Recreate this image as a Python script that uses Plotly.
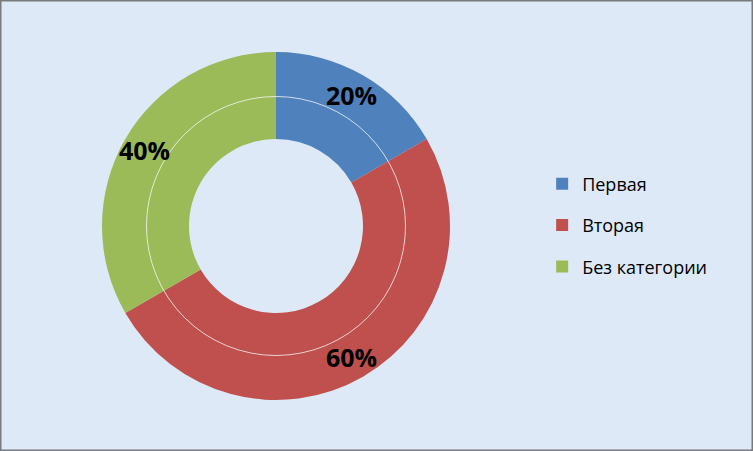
import math
import plotly.graph_objects as go

categories = ["Первая", "Вторая", "Без категории"]
values = [20, 60, 40]
colors = ["#4F81BD", "#C0504D", "#9BBB59"]

W, H = 753, 451
CX, CY = 276, 225          # pie centre in pixels (CY measured from bottom)
R_OUT, R_MID, R_HOLE = 174, 129.5, 87


def dom(r):
    return dict(x=[(CX - r) / W, (CX + r) / W], y=[(CY - r) / H, (CY + r) / H])


fig = go.Figure()

# inner ring
fig.add_trace(go.Pie(
    labels=categories, values=values, sort=False, direction="clockwise", rotation=0,
    marker=dict(colors=colors, line=dict(width=0)), hole=R_HOLE / R_MID,
    domain=dom(R_MID), textinfo="none", hoverinfo="label+value", showlegend=False,
))
# outer ring
fig.add_trace(go.Pie(
    labels=categories, values=values, sort=False, direction="clockwise", rotation=0,
    marker=dict(colors=colors, line=dict(width=0)), hole=R_MID / R_OUT,
    domain=dom(R_OUT), textinfo="none",
    hoverinfo="label+value", showlegend=False,
))

# data labels at the middle of each outer-ring slice (angles derived from values)
total = sum(values)
annotations = []
cum = 0
r_lab = (R_OUT + R_MID) / 2
for v in values:
    mid = (cum + v / 2) / total * 2 * math.pi   # clockwise from 12 o'clock
    cum += v
    px = CX + r_lab * math.sin(mid)
    py = CY + r_lab * math.cos(mid)
    annotations.append(dict(
        x=px / W, y=py / H, xref="paper", yref="paper", showarrow=False,
        text=f"{v}%", font=dict(family="Open Sans", size=25, color="black", weight="bold"),
        xanchor="center", yanchor="middle"))

# legend entries
for i, (c, col) in enumerate(zip(categories, colors)):
    fig.add_trace(go.Scatter(
        x=[None], y=[None], mode="markers", name=c, legendgroup=f"g{i}",
        marker=dict(symbol="square", size=15, color=col),
    ))

fig.update_layout(
    width=W, height=H,
    margin=dict(l=0, r=0, t=0, b=0),
    paper_bgcolor="#dde9f6", plot_bgcolor="rgba(0,0,0,0)",
    xaxis=dict(visible=False), yaxis=dict(visible=False),
    legend=dict(x=0.720, y=0.5, xanchor="left", yanchor="middle",
                font=dict(family="Open Sans", size=18, color="black"),
                tracegroupgap=15, bgcolor="rgba(0,0,0,0)", itemsizing="constant",
                itemwidth=30),
    annotations=annotations,
    shapes=[
        dict(type="circle", xref="paper", yref="paper",
             x0=(CX - R_MID) / W, x1=(CX + R_MID) / W,
             y0=(CY - R_MID) / H, y1=(CY + R_MID) / H,
             line=dict(color="rgba(255,255,255,0.65)", width=1)),
        dict(type="rect", xref="paper", yref="paper", x0=0, x1=1, y0=0, y1=1,
             line=dict(color="#7a7a7a", width=3)),
    ],
)

fig.write_html("out.html", config={"displayModeBar": False},
               post_script="document.body.style.margin='0';document.body.style.overflow='hidden';")
